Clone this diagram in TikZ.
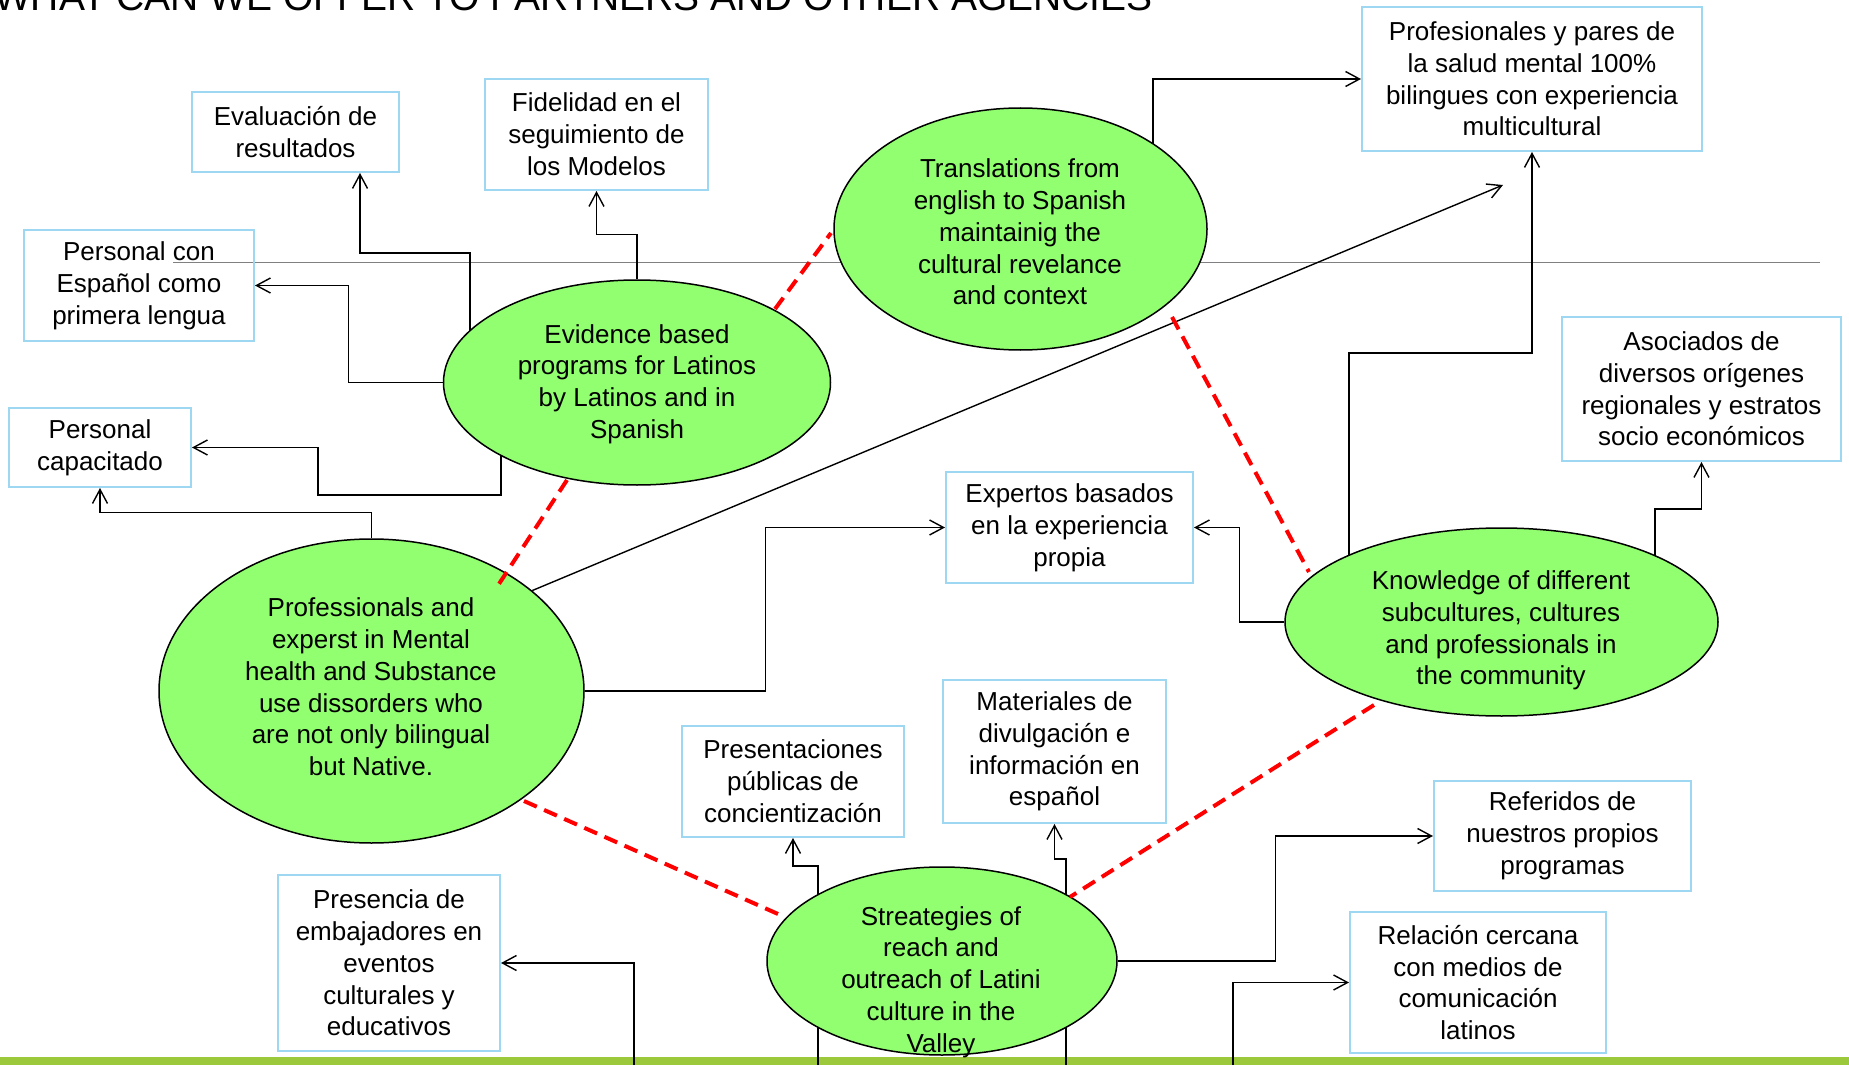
\documentclass[tikz,border=0pt]{standalone}
\usepackage{fontspec}
\setmainfont{Liberation Sans}
\usetikzlibrary{shapes.geometric,calc,arrows.meta}
\definecolor{bubblegreen}{RGB}{146,255,112}
\definecolor{boxblue}{RGB}{157,215,242}
\definecolor{bargreen}{RGB}{155,201,59}
\definecolor{rulegray}{RGB}{128,128,128}
\pgfdeclarelayer{bottom}
\pgfdeclarelayer{wires}
\pgfsetlayers{bottom,wires,main}
\begin{document}
\begin{tikzpicture}[x=0.5pt,y=-0.5pt,
  txt/.style={font=\fontsize{13}{15.9}\selectfont, align=center, inner sep=0pt},
  infobox/.style={txt, rectangle, draw=boxblue, line width=1pt},
  bubble/.style={ellipse, draw=black, line width=0.75pt, fill=bubblegreen, inner sep=0pt},
  conn/.style={draw=black, line width=0.7pt, -{Straight Barb[length=7pt,width=7.5pt]}},
  link/.style={draw=red, line width=2pt, dash pattern=on 7pt off 4pt},
]
\useasboundingbox (0,0) rectangle (1849,1065);
\clip (0,0) rectangle (1849,1065);

% title, cut by the top edge
\node[anchor=base east, inner sep=0pt, font=\fontsize{19.5}{23}\selectfont] (title) at (1153,11)
  {WHAT CAN WE OFFER TO PARTNERS AND OTHER AGENCIES};

% boxes
\node[infobox, minimum width=103.5pt, minimum height=40pt]   (eval)  at (295.5,132)  {Evaluación de\\resultados};
\node[infobox, minimum width=111.5pt, minimum height=55.5pt] (fidel) at (596.5,134.5) {Fidelidad en el\\seguimiento de\\los Modelos};
\node[infobox, minimum width=115pt,   minimum height=55.5pt] (pcon)  at (139,285.5)  {Personal con\\Español como\\primera lengua};
\node[infobox, minimum width=91pt,    minimum height=39.5pt] (pcap)  at (100,447.5)  {Personal\\capacitado};
\node[infobox, minimum width=170pt,   minimum height=72pt]   (prof)  at (1532,79)    {Profesionales y pares de\\la salud mental 100\%\\bilingues con experiencia\\multicultural};
\node[infobox, minimum width=139.5pt, minimum height=72pt]   (asoc)  at (1701.5,389) {Asociados de\\diversos orígenes\\regionales y estratos\\socio económicos};
\node[infobox, minimum width=123.5pt, minimum height=55.5pt] (expert) at (1069.5,527.5) {Expertos basados\\en la experiencia\\propia};
\node[infobox, minimum width=111.5pt, minimum height=71.5pt] (mater) at (1054.5,751.5) {Materiales de\\divulgación e\\información en\\español};
\node[infobox, minimum width=111pt,   minimum height=55.5pt] (pres)  at (793,781.5)  {Presentaciones\\públicas de\\concientización};
\node[infobox, minimum width=128.5pt, minimum height=55pt]   (refer) at (1562.5,836) {Referidos de\\nuestros propios\\programas};
\node[infobox, minimum width=128pt,   minimum height=70.5pt] (relac) at (1478,982.5) {Relación cercana\\con medios de\\comunicación\\latinos};
\node[infobox, minimum width=111pt,   minimum height=88pt]   (emb)   at (389,963)    {Presencia de\\embajadores en\\eventos\\culturales y\\educativos};

% green ellipses
\node[bubble, minimum width=193.5pt, minimum height=102.5pt] (A) at (637,382.5) {};
\node[bubble, minimum width=186.5pt, minimum height=121pt]   (B) at (1020.5,229) {};
\node[bubble, minimum width=212.5pt, minimum height=152pt]   (C) at (371.5,691) {};
\node[bubble, minimum width=216.5pt, minimum height=94pt]    (D) at (1501.5,622) {};
\node[bubble, minimum width=175pt,   minimum height=94pt]    (E) at (942,961) {};

% ellipse captions
\node[txt] (Atext) at (637,384) {Evidence based\\programs for Latinos\\by Latinos and in\\Spanish};
\node[txt] (Btext) at (1020,232) {Translations from\\english to Spanish\\maintainig the\\cultural revelance\\and context};
\node[txt] (Ctext) at (371,687) {Professionals and\\experst in Mental\\health and Substance\\use dissorders who\\are not only bilingual\\but Native.};
\node[txt] (Dtext) at (1501,630.5) {Knowledge of different\\subcultures, cultures\\and professionals in\\the community};
\node[txt] (Etext) at (941,982) {Streategies of\\reach and\\outreach of Latini\\culture in the\\Valley};

\coordinate (tipP)  at (1503,185);
\coordinate (footE) at (634,1065);
\coordinate (footP) at (818,1065);
\coordinate (footM) at (1066,1065);
\coordinate (footR) at (1233,1065);
\coordinate (ruleL) at (173,262);
\coordinate (ruleR) at (1820,262);

% footer band and rule, behind everything
\begin{pgfonlayer}{bottom}
  \fill[bargreen] (0,1057) rectangle (1849,1065);
  \draw[rulegray, line width=0.5pt] (ruleL) -- (ruleR);
\end{pgfonlayer}

% connectors, under the ellipses
\begin{pgfonlayer}{wires}
  \draw[conn] ($(A.center)+(-167,0)$) -- ++(0,-129.5) -- ++(-110,0) -- ($(eval.south)+(64.5,0)$);
  \draw[conn] (A.north) -- ++(0,-45) -| (fidel.south);
  \draw[conn] (A.west) -- ++(-94,0) |- (pcon.east);
  \draw[conn] ($(A.center)+(-136,0)$) -- ++(0,112.5) -- ++(-183,0) |- (pcap.east);
  \draw[conn] (C.north) -- ++(0,-26) -| (pcap.south);
  \draw[conn] (C.east) -- ++(181,0) |- (expert.west);
  \draw[conn] (C.32) -- (tipP);
  \draw[conn] ($(B.center)+(132.5,0)$) |- (prof.west);
  \draw[conn] ($(D.center)+(-152.5,0)$) -- ++(0,-269) -| (prof.south);
  \draw[conn] ($(D.center)+(153.5,0)$) -- ++(0,-113) -| (asoc.south);
  \draw[conn] (D.west) -- ++(-45,0) |- (expert.east);
  \draw[conn] (footP) -- ++(0,-199) -| (pres.south);
  \draw[conn] (footM) -- ++(0,-206) -| (mater.south);
  \draw[conn] (E.east) -- ++(158,0) |- (refer.west);
  \draw[conn] (footR) |- (relac.west);
  \draw[conn] (footE) |- (emb.east);
\end{pgfonlayer}

% dashed links between the ellipses
\draw[link] ($(A.center)+(138,-73.5)$) -- ($(B.center)+(-189.5,4)$);
\draw[link] ($(A.center)+(-70,97.5)$) -- ($(C.center)+(123.5,-101)$);
\draw[link] ($(B.center)+(151.5,88)$) -- ($(D.center)+(-192.5,-50)$);
\draw[link] ($(C.center)+(152.5,110)$) -- ($(E.center)+(-164,-47)$);
\draw[link] ($(D.center)+(-127.5,83)$) -- ($(E.center)+(128,-64)$);
\end{tikzpicture}
\end{document}
